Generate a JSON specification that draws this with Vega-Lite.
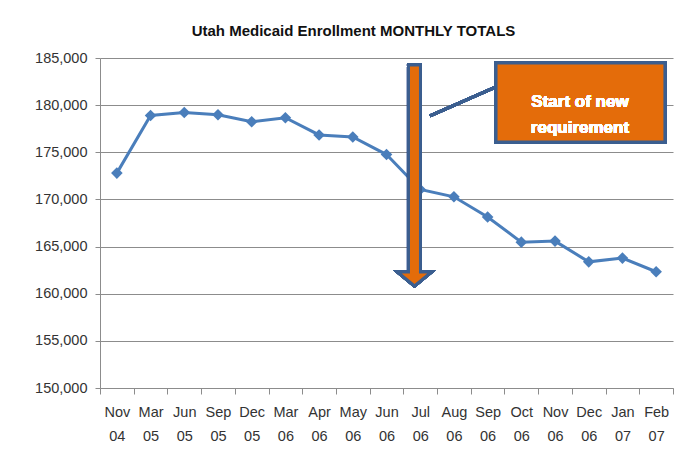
{
  "$schema": "https://vega.github.io/schema/vega-lite/v6.json",
  "autosize": "none",
  "width": 573,
  "height": 330,
  "padding": {"left": 100, "top": 58, "right": 21, "bottom": 69},
  "background": "white",
  "title": {
    "text": "Utah Medicaid Enrollment MONTHLY TOTALS",
    "font": "Liberation Sans",
    "fontSize": 15,
    "fontWeight": "bold",
    "color": "#111111",
    "anchor": "middle",
    "frame": "group",
    "dx": -33,
    "offset": 11
  },
  "data": {
    "values": [
      {"month": "Nov 04", "enrollment": 172790},
      {"month": "Mar 05", "enrollment": 178900},
      {"month": "Jun 05", "enrollment": 179220},
      {"month": "Sep 05", "enrollment": 178980},
      {"month": "Dec 05", "enrollment": 178240},
      {"month": "Mar 06", "enrollment": 178660},
      {"month": "Apr 06", "enrollment": 176840},
      {"month": "May 06", "enrollment": 176620},
      {"month": "Jun 06", "enrollment": 174760},
      {"month": "Jul 06", "enrollment": 171060},
      {"month": "Aug 06", "enrollment": 170280},
      {"month": "Sep 06", "enrollment": 168140},
      {"month": "Oct 06", "enrollment": 165470},
      {"month": "Nov 06", "enrollment": 165580},
      {"month": "Dec 06", "enrollment": 163380},
      {"month": "Jan 07", "enrollment": 163780},
      {"month": "Feb 07", "enrollment": 162330}
    ]
  },
  "encoding": {
    "y": {
      "field": "enrollment",
      "type": "quantitative",
      "scale": {"domain": [150000, 185000], "nice": false, "zero": false},
      "axis": {
        "title": null,
        "values": [150000, 155000, 160000, 165000, 170000, 175000, 180000, 185000],
        "format": ",d",
        "grid": true,
        "gridColor": "#8c8c8c",
        "gridWidth": 1,
        "domainColor": "#8c8c8c",
        "tickColor": "#8c8c8c",
        "tickSize": 5,
        "labelPadding": 8,
        "labelFont": "Liberation Sans",
        "labelFontSize": 14.5,
        "labelColor": "#333333"
      }
    }
  },
  "layer": [
    {
      "mark": {"type": "line", "color": "#4a7ebb", "strokeWidth": 3},
      "encoding": {
        "x": {
          "field": "month",
          "type": "ordinal",
          "sort": null,
          "scale": {"type": "band", "paddingInner": 0, "paddingOuter": 0},
          "axis": {
            "title": null,
            "tickBand": "extent",
            "ticks": true,
            "tickSize": 6,
            "tickColor": "#8c8c8c",
            "domainColor": "#8c8c8c",
            "grid": false,
            "labelAngle": 0,
            "labelExpr": "split(datum.label, ' ')",
            "labelLineHeight": 24,
            "labelBaseline": "top",
            "labelPadding": 11,
            "labelFont": "Liberation Sans",
            "labelFontSize": 14.5,
            "labelColor": "#333333"
          }
        }
      }
    },
    {
      "mark": {"type": "point", "shape": "diamond", "filled": true, "size": 135, "color": "#4a7ebb", "opacity": 1},
      "encoding": {
        "x": {"field": "month", "type": "ordinal", "sort": null, "scale": {"type": "band", "paddingInner": 0, "paddingOuter": 0}, "axis": null}
      }
    },
    {
      "mark": {"type": "rule", "color": "#3b5e8f", "strokeWidth": 3},
      "encoding": {
        "x": {"datum": 9.29, "type": "quantitative", "scale": {"domain": [-0.5, 16.5], "nice": false, "zero": false}, "axis": null},
        "x2": {"datum": 11.25},
        "y": {"datum": 178850},
        "y2": {"datum": 181925}
      }
    },
    {
      "mark": {
        "type": "point",
        "shape": "M-6,-111 L6,-111 L6,96 L17,96 L0,110 L-17,96 L-6,96 Z",
        "size": 4,
        "filled": true,
        "fill": "#e46c0a",
        "stroke": "#3b5e8f",
        "strokeWidth": 3,
        "strokeJoin": "miter",
        "opacity": 1
      },
      "encoding": {
        "x": {"datum": 8.83, "type": "quantitative", "scale": {"domain": [-0.5, 16.5], "nice": false, "zero": false}, "axis": null},
        "y": {"datum": 172490}
      }
    },
    {
      "mark": {"type": "rect", "fill": "#e46c0a", "stroke": "#3b5e8f", "strokeWidth": 3},
      "encoding": {
        "x": {"datum": 11.25, "type": "quantitative", "scale": {"domain": [-0.5, 16.5], "nice": false, "zero": false}, "axis": null},
        "x2": {"datum": 16.26},
        "y": {"datum": 184470},
        "y2": {"datum": 176090}
      }
    },
    {
      "mark": {
        "type": "text",
        "text": ["Start of new", "requirement"],
        "font": "Liberation Sans",
        "fontWeight": "bold",
        "fontSize": 17,
        "lineHeight": 26,
        "color": "white",
        "align": "center",
        "baseline": "middle"
      },
      "encoding": {
        "x": {"datum": 13.74, "type": "quantitative", "scale": {"domain": [-0.5, 16.5], "nice": false, "zero": false}, "axis": null},
        "y": {"datum": 180330}
      }
    }
  ],
  "resolve": {"scale": {"x": "independent"}},
  "config": {"view": {"stroke": null}}
}
